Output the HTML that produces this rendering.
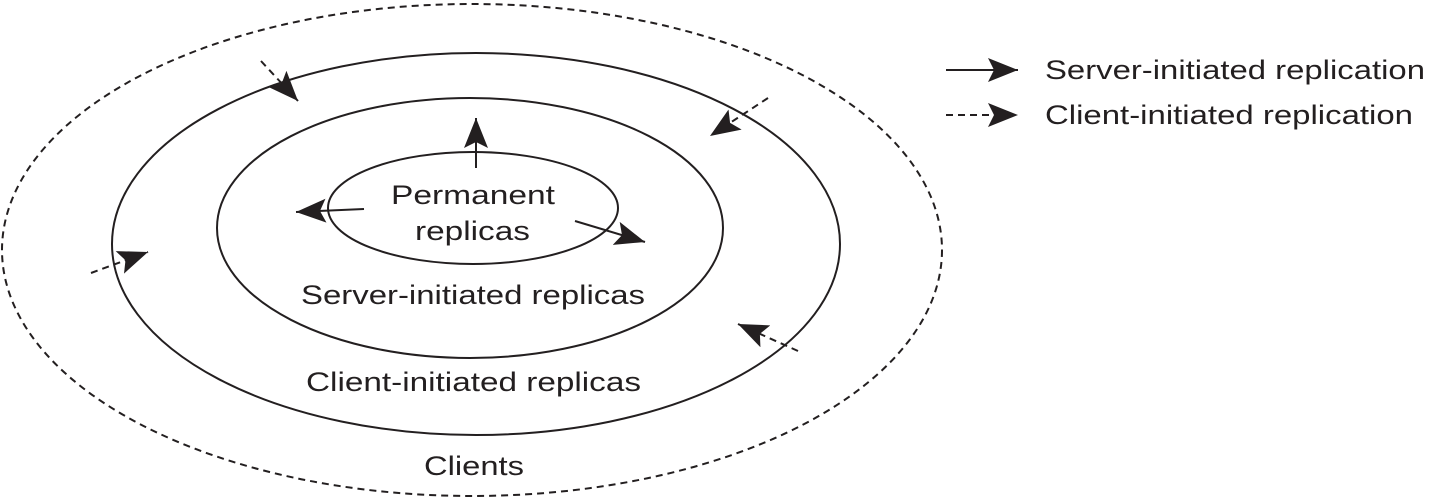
<!DOCTYPE html>
<html><head><meta charset="utf-8"><style>html,body{margin:0;padding:0;background:#fff;}svg{display:block}</style></head>
<body>
<svg width="1429" height="500" viewBox="0 0 1429 500" xmlns="http://www.w3.org/2000/svg">
<defs>
<marker id="ah" markerWidth="30" markerHeight="24" refX="30" refY="12" orient="auto" markerUnits="userSpaceOnUse">
<path d="M0,0 L30,12 L0,24 L6,12 Z" fill="#231f20"/>
</marker>
</defs>
<g fill="none" stroke="#231f20" stroke-width="2">
<ellipse cx="472" cy="250" rx="470" ry="246" stroke-dasharray="7,5"/>
<ellipse cx="476" cy="244" rx="364" ry="191"/>
<ellipse cx="470" cy="228" rx="253" ry="130"/>
<ellipse cx="473" cy="208" rx="145" ry="56"/>
<line x1="476" y1="168" x2="476" y2="118" marker-end="url(#ah)"/>
<line x1="364" y1="209" x2="296" y2="212" marker-end="url(#ah)"/>
<line x1="575" y1="221" x2="645" y2="242" marker-end="url(#ah)"/>
<g stroke-dasharray="7,5">
<line x1="261" y1="61" x2="298" y2="101" marker-end="url(#ah)"/>
<line x1="768" y1="98" x2="710" y2="136" marker-end="url(#ah)"/>
<line x1="91" y1="273" x2="148" y2="252" marker-end="url(#ah)"/>
<line x1="798" y1="351" x2="738" y2="324" marker-end="url(#ah)"/>
<line x1="946" y1="115" x2="1018" y2="115" marker-end="url(#ah)"/>
</g>
<line x1="946" y1="70" x2="1018" y2="70" marker-end="url(#ah)"/>
</g>
<g font-family="Liberation Sans, sans-serif" font-size="27" fill="#231f20">
<text x="391" y="204" textLength="164" lengthAdjust="spacingAndGlyphs">Permanent</text>
<text x="415" y="240" textLength="115" lengthAdjust="spacingAndGlyphs">replicas</text>
<text x="301" y="304" textLength="344" lengthAdjust="spacingAndGlyphs">Server-initiated replicas</text>
<text x="306" y="391" textLength="335" lengthAdjust="spacingAndGlyphs">Client-initiated replicas</text>
<text x="424" y="475" textLength="100" lengthAdjust="spacingAndGlyphs">Clients</text>
<text x="1045" y="79" textLength="380" lengthAdjust="spacingAndGlyphs">Server-initiated replication</text>
<text x="1045" y="124" textLength="368" lengthAdjust="spacingAndGlyphs">Client-initiated replication</text>
</g>
</svg>
</body></html>
